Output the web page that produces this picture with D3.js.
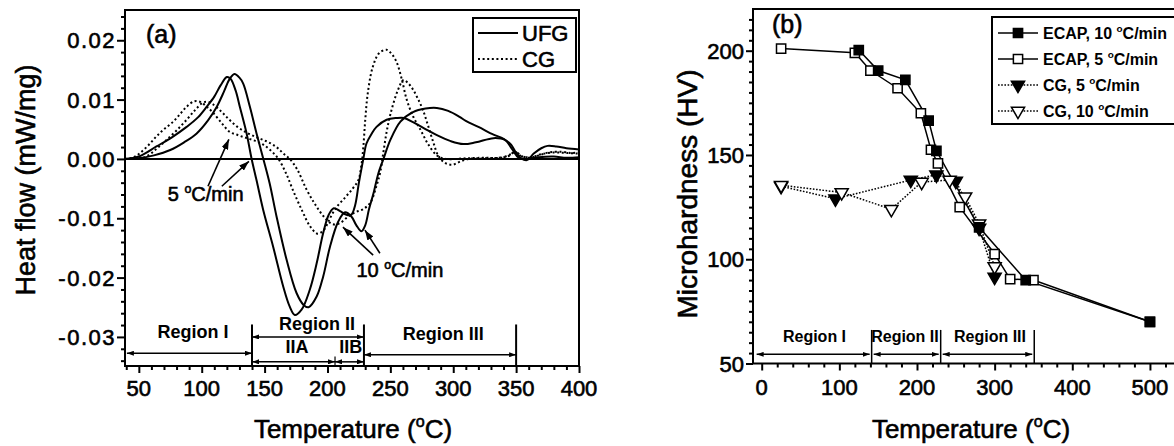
<!DOCTYPE html>
<html lang="en">
<head>
<meta charset="UTF-8" />
<title>DSC heat flow and microhardness</title>
<style>
  body { margin: 0; background: #fff; }
  svg { display: block; font-family: "Liberation Sans", Arial, sans-serif; }
  text.heavy { stroke: #000; stroke-width: 0.6px; }
</style>
</head>
<body>
<svg id="svg" width="1174" height="446"></svg>
<script src="https://d3js.org/d3.v7.min.js"></script>
<script>
// ---- (a) DSC curves: [temperature degC, heat flow mW/mg]
const ufg5 = [[39,0],[50,0.0004],[64,0.0021],[76,0.0036],[88,0.0054],[97,0.0070],[104,0.0088],[110,0.0105],[115,0.0124],[120,0.0138],[123,0.0135],[127,0.0115],[130.3,0.0088],[135.7,0.0043],[139.7,0],[143.6,-0.0036],[148.9,-0.0086],[156.8,-0.0148],[164.8,-0.0215],[170,-0.0249],[174,-0.0263],[179.4,-0.0254],[186,-0.0220],[191.4,-0.0176],[196.6,-0.0125],[201,-0.0094],[205,-0.0083],[210,-0.0088],[215,-0.0094],[219,-0.0094],[222,-0.0078],[225,-0.0040],[228.5,0],[231,0.0026],[235,0.0042],[239,0.0054],[247,0.0066],[255,0.0069],[261,0.0069],[268,0.0062],[279,0.0049],[287,0.0040],[298,0.0030],[308,0.0025],[318,0.0028],[332,0.0035],[341,0.0032],[347,0.0016],[352,0.0002],[358,0],[368,0.0003],[380,0.0004],[390,0.0002],[400,0.0003]];
const ufg10 = [[39,0],[50,0.0001],[62,0.0006],[75,0.0015],[86,0.0028],[96,0.0043],[105,0.0065],[112,0.0088],[118,0.0115],[122,0.0134],[126,0.0143],[130,0.0137],[133,0.0127],[138.3,0.0088],[143.6,0.0043],[149,0],[154,-0.0041],[159.5,-0.0097],[167.5,-0.0170],[175.4,-0.0226],[181,-0.0246],[185,-0.0250],[191.4,-0.0232],[196.6,-0.0198],[202,-0.0148],[208.5,-0.0106],[214,-0.0090],[219,-0.0097],[223,-0.0112],[227,-0.0122],[230,-0.0112],[233,-0.0085],[236.6,-0.0058],[240.5,-0.0024],[244.5,0],[250,0.0032],[258,0.0063],[268,0.0079],[278,0.0085],[287,0.0086],[296,0.0081],[305,0.0071],[310,0.0064],[320,0.0054],[332,0.0041],[340,0.0034],[346,0.0024],[350,0.0010],[354,0.0001],[358.6,-0.0002],[364,0.0009],[370,0.0018],[375,0.0022],[382,0.0021],[390,0.0018],[400,0.0016]];
const cg5 = [[39,0],[45,0.0002],[51,0.0010],[58,0.0024],[64,0.0038],[70,0.0050],[77,0.0062],[83,0.0076],[88,0.0088],[94,0.0097],[99,0.0096],[104,0.0088],[109,0.0078],[116,0.0060],[122,0.0046],[129,0.0040],[136,0.0035],[143,0.0030],[149,0.0024],[155,0.0014],[161,0],[167,-0.0024],[173,-0.0055],[180,-0.0088],[186,-0.0113],[192,-0.0126],[197,-0.0120],[202,-0.0100],[207,-0.0082],[214,-0.0065],[220,-0.0050],[224.5,-0.0036],[227,-0.0010],[228.5,0.0020],[230,0.0065],[232,0.0110],[236,0.0155],[241,0.0178],[247,0.0184],[251,0.0177],[255,0.0163],[259,0.0135],[263,0.0100],[268,0.0072],[274,0.0049],[280,0.0025],[287,0.0006],[294,0],[310,0.0001],[325,0.0002],[338,0.0002],[346,0.0008],[350,0.0011],[355,0.0004],[362,0.0003],[370,0.0008],[380,0.0011],[390,0.0010],[400,0.0009]];
const cg10 = [[39,0],[50,0.0001],[56,0.0004],[64,0.0017],[72,0.0032],[80,0.0048],[88,0.0066],[95,0.0083],[101,0.0095],[105,0.0096],[109,0.0092],[116,0.0079],[122,0.0066],[129,0.0053],[136,0.0044],[143,0.0037],[149,0.0032],[155,0.0026],[160,0.0019],[165,0.0009],[170,0],[176,-0.0018],[183,-0.0050],[190,-0.0076],[197,-0.0097],[204,-0.0110],[210,-0.0108],[216,-0.0098],[222,-0.0090],[228,-0.0085],[234,-0.0074],[239,-0.0045],[242,-0.0022],[244.5,0.0012],[247,0.0045],[250,0.0075],[256,0.0116],[260.5,0.0133],[264,0.0128],[268,0.0117],[272,0.0101],[276,0.0082],[280,0.0056],[284,0.0029],[288,0.0006],[293,-0.0006],[299,-0.0010],[305,-0.0005],[312,0],[325,0.0001],[336,0.0002],[344,0.0005],[349,0.0012],[353,0.0006],[360,0.0002],[368,0.0006],[376,0.0011],[386,0.0012],[394,0.0010],[400,0.0011]];
const heatTicks = [-0.03, -0.02, -0.01, 0, 0.01, 0.02];
const tempTicksA = [50, 100, 150, 200, 250, 300, 350, 400];
const legendA = ["UFG", "CG"];

// ---- (b) microhardness: [temperature degC, HV]
const ecap10 = [[125,200.3],[150,190.5],[185,186],[215,166.5],[225,152],[280,115.3],[340,90],[500,70]];
const ecap5 = [[25,201],[120,199],[140,190.5],[175,182],[205,170],[218,152.5],[227,146],[255,125],[300,102.5],[320,90.5],[350,90],[500,70]];
const cgHv5 = [[25,135],[95,129],[192,138],[225,140.5],[250,137.5],[280,115],[300,91.5]];
const cgHv10 = [[25,135.5],[103,132],[167,124],[206,137],[242,138],[262,130],[280,117],[300,96.5]];
const hvTicks = [50, 100, 150, 200];
const tempTicksB = [0, 100, 200, 300, 400, 500];
const legendB = ["ECAP, 10 ", "ECAP, 5 ", "CG, 5 ", "CG, 10 "];

// region boundaries (degC)
const regionsA = [40.5, 140, 229, 350];
const subRegionA = 206;
const regionsB = [-6.5, 141.6, 230.5, 351];
const regionNames = ["Region I", "Region II", "Region III"];

const svg = d3.select("#svg");

const defs = svg.append("defs");
function arrowMarker(id, len, wid) {
  defs.append("marker")
    .attr("id", id)
    .attr("viewBox", `0 0 ${len} ${wid}`)
    .attr("refX", len).attr("refY", wid / 2)
    .attr("markerWidth", len).attr("markerHeight", wid)
    .attr("markerUnits", "userSpaceOnUse")
    .attr("orient", "auto-start-reverse")
    .append("path")
    .attr("d", `M0,0 L${len},${wid / 2} L0,${wid} Z`)
    .attr("fill", "#000");
}
arrowMarker("ahSmall", 7, 5);
arrowMarker("ahBig", 10, 7);

// text with superscript "o" for the degree sign
function degText(g, x, y, pre, post, size, weight, anchor) {
  const t = g.append("text")
    .attr("x", x).attr("y", y)
    .attr("font-size", size)
    .attr("font-weight", weight || "normal")
    .attr("text-anchor", anchor || "start");
  if (weight !== "bold") t.attr("class", "heavy");
  t.append("tspan").text(pre);
  t.append("tspan").attr("dy", -size * 0.42).attr("font-size", size * 0.62).text("o");
  t.append("tspan").attr("dy", size * 0.42).text(post);
  return t;
}

function drawTicks(g, scale, values, orient, len) {
  const axis = (orient === "bottom" ? d3.axisBottom(scale) : d3.axisLeft(scale))
    .tickValues(values).tickSize(len).tickSizeOuter(0).tickFormat("");
  const a = g.append("g").call(axis);
  a.select(".domain").remove();
  a.selectAll("line").attr("stroke", "#000").attr("stroke-width", 2);
  return a;
}

// =================== panel (a) ===================
const xA = d3.scaleLinear().domain([39, 400]).range([125, 579]);
const yA = d3.scaleLinear().domain([-0.0349, 0.0251]).range([366, 10]);
const gA = svg.append("g");

const xMinorA = d3.range(40, 401, 10).filter(v => v % 50 !== 0);
const yMinorA = d3.range(-34, 25, 2).filter(v => v % 10 !== 0).map(v => v / 1000);
drawTicks(gA.append("g").attr("transform", "translate(0,366)"), xA, xMinorA, "bottom", 4);
drawTicks(gA.append("g").attr("transform", "translate(0,366)"), xA, tempTicksA, "bottom", 7);
drawTicks(gA.append("g").attr("transform", "translate(125,0)"), yA, yMinorA, "left", 4);
drawTicks(gA.append("g").attr("transform", "translate(125,0)"), yA, heatTicks, "left", 8);

gA.selectAll(".xlabA").data(tempTicksA).enter().append("text")
  .attr("class", "heavy")
  .attr("x", d => xA(d)).attr("y", 396)
  .attr("text-anchor", "middle").attr("font-size", 22)
  .text(d => d);
gA.selectAll(".ylabA").data(heatTicks).enter().append("text")
  .attr("class", "heavy")
  .attr("x", 116).attr("y", d => yA(d) + 8)
  .attr("text-anchor", "end").attr("font-size", 22).attr("letter-spacing", 1.5)
  .text(d => d.toFixed(2));

// zero line
gA.append("line")
  .attr("x1", xA(39)).attr("x2", xA(400)).attr("y1", yA(0)).attr("y2", yA(0))
  .attr("stroke", "#000").attr("stroke-width", 2);

// curves
const lineA = d3.line().x(d => xA(d[0])).y(d => yA(d[1])).curve(d3.curveCatmullRom.alpha(0.5));
[[ufg5, null], [ufg10, null], [cg5, "2,2.6"], [cg10, "2,2.6"]].forEach(([s, dash]) => {
  gA.append("path").datum(s).attr("d", lineA)
    .attr("fill", "none").attr("stroke", "#000").attr("stroke-width", 2)
    .attr("stroke-dasharray", dash);
});

// frame
gA.append("rect").attr("x", 125).attr("y", 10).attr("width", 454).attr("height", 356)
  .attr("fill", "none").attr("stroke", "#000").attr("stroke-width", 2);

// legend (a)
gA.append("rect").attr("x", 473).attr("y", 18).attr("width", 103).attr("height", 54)
  .attr("fill", "#fff").attr("stroke", "#000").attr("stroke-width", 2);
legendA.forEach((name, i) => {
  const y = 33 + i * 26;
  gA.append("line").attr("x1", 478).attr("x2", 518).attr("y1", y).attr("y2", y)
    .attr("stroke", "#000").attr("stroke-width", 2)
    .attr("stroke-dasharray", i === 1 ? "2,2.6" : null);
  gA.append("text").attr("class", "heavy").attr("x", 522).attr("y", y + 8)
    .attr("font-size", 22).text(name);
});

gA.append("text").attr("class", "heavy").attr("x", 146).attr("y", 43).attr("font-size", 25).text("(a)");

// heating-rate annotations
degText(gA, xA(73), yA(-0.0071), "5 ", "C/min", 20);
[[[105, -0.0046], [121.6, 0.0033]], [[116, -0.0046], [137.5, -0.0004]]].forEach(([a, b]) => {
  gA.append("line").attr("x1", xA(a[0])).attr("y1", yA(a[1])).attr("x2", xA(b[0])).attr("y2", yA(b[1]))
    .attr("stroke", "#000").attr("stroke-width", 1.6).attr("marker-end", "url(#ahBig)");
});
degText(gA, xA(223), yA(-0.0199), "10 ", "C/min", 20);
[[[236.3, -0.0162], [212.3, -0.0115]], [[241.7, -0.0159], [229.8, -0.0120]]].forEach(([a, b]) => {
  gA.append("line").attr("x1", xA(a[0])).attr("y1", yA(a[1])).attr("x2", xA(b[0])).attr("y2", yA(b[1]))
    .attr("stroke", "#000").attr("stroke-width", 1.6).attr("marker-end", "url(#ahBig)");
});

// regions (a)
function dblArrow(g, x1, x2, y) {
  g.append("line").attr("x1", x1).attr("x2", x2).attr("y1", y).attr("y2", y)
    .attr("stroke", "#000").attr("stroke-width", 1.5)
    .attr("marker-start", "url(#ahSmall)").attr("marker-end", "url(#ahSmall)");
}
regionsA.slice(1).forEach(t => {
  gA.append("line").attr("x1", xA(t)).attr("x2", xA(t)).attr("y1", yA(-0.0279)).attr("y2", 366)
    .attr("stroke", "#000").attr("stroke-width", 2);
});
dblArrow(gA, xA(regionsA[0]), xA(regionsA[1]), yA(-0.03275));
dblArrow(gA, xA(regionsA[1]), xA(regionsA[2]), yA(-0.0300));
dblArrow(gA, xA(regionsA[2]), xA(regionsA[3]), yA(-0.0330));
dblArrow(gA, xA(regionsA[1]), xA(subRegionA), yA(-0.0342));
dblArrow(gA, xA(subRegionA), xA(regionsA[2]), yA(-0.0342));
gA.append("line").attr("x1", xA(subRegionA)).attr("x2", xA(subRegionA))
  .attr("y1", yA(-0.0333)).attr("y2", 366).attr("stroke", "#000").attr("stroke-width", 1.2);
[[regionNames[0], 93, -0.0302], [regionNames[1], 191.6, -0.0288], [regionNames[2], 292, -0.0305],
 ["IIA", 175.7, -0.0327], ["IIB", 218.6, -0.0327]].forEach(([s, t, v]) => {
  gA.append("text").attr("x", xA(t)).attr("y", yA(v)).attr("text-anchor", "middle")
    .attr("font-size", 18).attr("font-weight", "bold").text(s);
});

// axis titles (a)
gA.append("text").attr("class", "heavy").attr("transform", "translate(35,180) rotate(-90)")
  .attr("text-anchor", "middle").attr("font-size", 27).text("Heat flow (mW/mg)");
degText(gA, 353, 438, "Temperature (", "C)", 26, "normal", "middle");

// =================== panel (b) ===================
const xB = d3.scaleLinear().domain([-11.2, 540]).range([753, 1181]);
const yB = d3.scaleLinear().domain([50, 220]).range([363.5, 9]);
const gB = svg.append("g");

const xMinorB = d3.range(20, 540, 20).filter(v => v % 100 !== 0);
const yMinorB = d3.range(55, 220, 5).filter(v => v % 50 !== 0);
drawTicks(gB.append("g").attr("transform", "translate(0,363.5)"), xB, xMinorB, "bottom", 4);
drawTicks(gB.append("g").attr("transform", "translate(0,363.5)"), xB, tempTicksB, "bottom", 7);
drawTicks(gB.append("g").attr("transform", "translate(753,0)"), yB, yMinorB, "left", 4);
drawTicks(gB.append("g").attr("transform", "translate(753,0)"), yB, hvTicks, "left", 7);

gB.selectAll(".xlabB").data(tempTicksB).enter().append("text")
  .attr("class", "heavy")
  .attr("x", d => xB(d)).attr("y", 395)
  .attr("text-anchor", "middle").attr("font-size", 22).text(d => d);
gB.selectAll(".ylabB").data(hvTicks).enter().append("text")
  .attr("class", "heavy")
  .attr("x", 744).attr("y", d => yB(d) + 8)
  .attr("text-anchor", "end").attr("font-size", 22).text(d => d);

gB.append("rect").attr("x", 753).attr("y", 9).attr("width", 428).attr("height", 354.5)
  .attr("fill", "none").attr("stroke", "#000").attr("stroke-width", 2);

const lineB = d3.line().x(d => xB(d[0])).y(d => yB(d[1]));
const seriesB = [
  { data: cgHv5, dash: "1.6,1.6", sym: "tri", fill: "#000" },
  { data: cgHv10, dash: "1.6,1.6", sym: "tri", fill: "#fff" },
  { data: ecap5, dash: null, sym: "sq", fill: "#fff" },
  { data: ecap10, dash: null, sym: "sq", fill: "#000" }
];
const sq = d3.symbol().type(d3.symbolSquare).size(85);
const tri = d3.symbol().type(d3.symbolTriangle).size(75);
seriesB.forEach(s => {
  gB.append("path").datum(s.data).attr("d", lineB)
    .attr("fill", "none").attr("stroke", "#000").attr("stroke-width", 1.5)
    .attr("stroke-dasharray", s.dash);
});
function marker(g, s, x, y) {
  g.append("path")
    .attr("d", s.sym === "sq" ? sq() : tri())
    .attr("transform", `translate(${x},${y})` + (s.sym === "tri" ? " rotate(180)" : ""))
    .attr("fill", s.fill).attr("stroke", "#000").attr("stroke-width", 1.5);
}
seriesB.forEach(s => s.data.forEach(d => marker(gB, s, xB(d[0]), yB(d[1]))));

// legend (b): order ECAP10, ECAP5, CG5, CG10
gB.append("rect").attr("x", 992).attr("y", 17).attr("width", 200).attr("height", 107)
  .attr("fill", "#fff").attr("stroke", "#000").attr("stroke-width", 2);
[seriesB[3], seriesB[2], seriesB[0], seriesB[1]].forEach((s, i) => {
  const y = 33 + i * 26;
  gB.append("line").attr("x1", 998).attr("x2", 1038).attr("y1", y).attr("y2", y)
    .attr("stroke", "#000").attr("stroke-width", 1.5).attr("stroke-dasharray", s.dash);
  marker(gB, s, 1018, y);
  degText(gB, 1043, y + 6, legendB[i], "C/min", 16, "bold");
});

gB.append("text").attr("class", "heavy").attr("x", 772).attr("y", 33).attr("font-size", 25).text("(b)");

// regions (b)
regionsB.slice(1).forEach(t => {
  gB.append("line").attr("x1", xB(t)).attr("x2", xB(t)).attr("y1", yB(66.1)).attr("y2", 363.5)
    .attr("stroke", "#000").attr("stroke-width", 1.5);
});
for (let i = 0; i < 3; i++) dblArrow(gB, xB(regionsB[i]) + (i ? 2 : 0), xB(regionsB[i + 1]) - 2, yB(54.4));
[[regionNames[0], 68], [regionNames[1], 184.5], [regionNames[2], 294]].forEach(([s, t]) => {
  gB.append("text").attr("x", xB(t)).attr("y", yB(60.5)).attr("text-anchor", "middle")
    .attr("font-size", 16).attr("font-weight", "bold").text(s);
});

// axis titles (b)
gB.append("text").attr("class", "heavy").attr("transform", "translate(697,194) rotate(-90)")
  .attr("text-anchor", "middle").attr("font-size", 28).text("Microhardness (HV)");
degText(gB, 971, 438, "Temperature (", "C)", 26, "normal", "middle");
</script>
</body>
</html>
